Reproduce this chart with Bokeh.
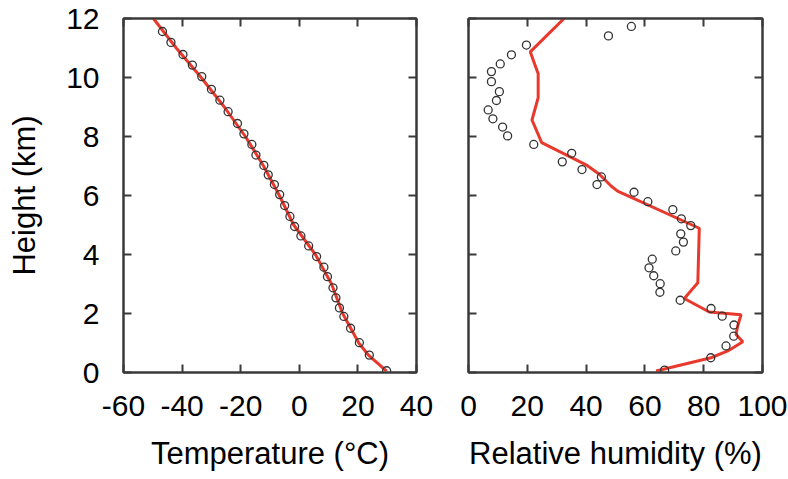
from bokeh.plotting import figure
from bokeh.layouts import row
from bokeh.models import LinearAxis, FixedTicker, Range1d, CustomJSTickFormatter
from bokeh.embed import file_html
from bokeh.resources import INLINE

# ---- data ----
height_ticks = [0, 2, 4, 6, 8, 10, 12]
temp_ticks = [-60, -40, -20, 0, 20, 40]
rh_ticks = [0, 20, 40, 60, 80, 100]

temp_obs = [-46.7, -43.8, -39.7, -36.5, -33.3, -30.0, -27.1, -24.3, -21.1, -18.9,
            -16.2, -14.8, -12.1, -10.6, -8.5, -6.7, -5.0, -3.2, -1.6, 0.55,
            3.2, 5.9, 8.4, 9.6, 11.5, 12.5, 13.7, 15.2, 17.5, 20.5, 23.9, 29.8]
temp_obs_h = [11.56, 11.19, 10.78, 10.42, 10.03, 9.60, 9.23, 8.84, 8.44, 8.09,
              7.73, 7.37, 7.02, 6.70, 6.37, 6.03, 5.66, 5.29, 4.95, 4.63,
              4.29, 3.93, 3.57, 3.25, 2.87, 2.53, 2.19, 1.90, 1.50, 1.01, 0.59, 0.06]

temp_model = [-49.8, -42.0, -33.5, -25.6, -18.4, -12.2, -6.8, -1.9, 5.5, 11.0, 14.8, 20.3, 23.5, 29.8]
temp_model_h = [12.0, 11.0, 10.0, 9.0, 8.0, 7.0, 6.0, 5.0, 4.0, 3.0, 2.0, 1.0, 0.6, 0.05]

rh_obs = [55.4, 47.6, 19.7, 14.6, 10.8, 7.8, 7.8, 10.5, 9.5, 6.7,
          8.3, 11.6, 13.3, 22.2, 35.1, 31.9, 38.6, 45.2, 43.7, 56.3,
          61.0, 69.5, 72.4, 75.6, 72.2, 73.1, 70.5, 62.5, 61.4, 63.0,
          65.2, 65.1, 72.0, 82.5, 86.3, 90.3, 90.2, 87.6, 82.4, 66.7]
rh_obs_h = [11.73, 11.41, 11.10, 10.77, 10.46, 10.20, 9.86, 9.52, 9.22, 8.90,
            8.60, 8.32, 8.02, 7.73, 7.43, 7.14, 6.88, 6.63, 6.37, 6.11,
            5.79, 5.52, 5.21, 4.98, 4.70, 4.42, 4.12, 3.84, 3.55, 3.28,
            3.01, 2.72, 2.45, 2.17, 1.91, 1.61, 1.23, 0.90, 0.50, 0.08]

rh_model = [32.5, 21.0, 23.7, 23.7, 21.6, 24.9, 40.0, 44.5, 48.5, 50.7,
            78.5, 78.0, 73.4, 81.9, 92.7, 91.5, 91.0, 93.3, 88.2, 82.5, 63.8]
rh_model_h = [12.0, 10.87, 10.13, 9.32, 8.56, 7.79, 7.04, 6.72, 6.32, 6.15,
              4.89, 3.04, 2.51, 2.05, 1.96, 1.55, 1.29, 1.04, 0.73, 0.50, 0.05]

FONT = "Liberation Sans"
FRAME = "#3a3a3a"
RED = "#e8392c"
TICK_FS = "30px"
LABEL_FS = "31px"
H_TOTAL = 479
TOP = 18
BOTTOM = 107


def style_axis(ax, ticks, labels=True):
    ax.ticker = FixedTicker(ticks=ticks)
    ax.axis_line_color = FRAME
    ax.axis_line_width = 2
    ax.major_tick_line_color = FRAME
    ax.major_tick_line_width = 2
    ax.major_tick_in = 8
    ax.major_tick_out = 0
    ax.minor_tick_line_color = None
    ax.major_label_text_font = FONT
    ax.major_label_text_font_size = TICK_FS
    ax.major_label_text_color = "black"
    ax.axis_label_text_font = FONT
    ax.axis_label_text_font_size = LABEL_FS
    ax.axis_label_text_font_style = "normal"
    ax.axis_label_text_color = "black"
    if labels:
        ax.formatter = CustomJSTickFormatter(code="return String(tick);")
    else:
        ax.formatter = CustomJSTickFormatter(code="return '';")
        ax.major_label_standoff = 0
        ax.major_label_text_font_size = "1px"


def make_fig(width, xr, xticks, xlabel, ylabel, left, right, ylabels):
    p = figure(width=width, height=H_TOTAL, output_backend="svg", toolbar_location=None,
               x_range=Range1d(*xr), y_range=Range1d(0, 12),
               min_border_left=left, min_border_right=right,
               min_border_top=TOP, min_border_bottom=BOTTOM)
    p.grid.visible = False
    p.outline_line_color = FRAME
    p.outline_line_width = 2
    p.background_fill_color = "white"
    p.border_fill_color = "white"
    style_axis(p.xaxis[0], xticks)
    p.xaxis.axis_label = xlabel
    p.xaxis.major_label_standoff = 23
    p.xaxis.axis_label_standoff = 17
    style_axis(p.yaxis[0], height_ticks, labels=ylabels)
    if ylabel:
        p.yaxis.axis_label = ylabel
        p.yaxis.major_label_standoff = 24
        p.yaxis.axis_label_standoff = 21
    ax_r = LinearAxis()
    style_axis(ax_r, height_ticks, labels=False)
    p.add_layout(ax_r, "right")
    ax_t = LinearAxis()
    style_axis(ax_t, xticks, labels=False)
    p.add_layout(ax_t, "above")
    return p


p1 = make_fig(443, (-60, 40), temp_ticks, "Temperature (°C)", "Height (km)", 123, 27, True)
p1.line(temp_model, temp_model_h, line_color=RED, line_width=3)
p1.scatter(temp_obs, temp_obs_h, marker="circle", size=8, fill_color=None,
           line_color="#333333", line_width=1.3)

p2 = make_fig(345, (0, 100), rh_ticks, "Relative humidity (%)", None, 25, 26, False)
p2.line(rh_model, rh_model_h, line_color=RED, line_width=3)
p2.scatter(rh_obs, rh_obs_h, marker="circle", size=8, fill_color=None,
           line_color="#333333", line_width=1.3)

layout = row(p1, p2)
open("out.html", "w").write(file_html(layout, INLINE))
